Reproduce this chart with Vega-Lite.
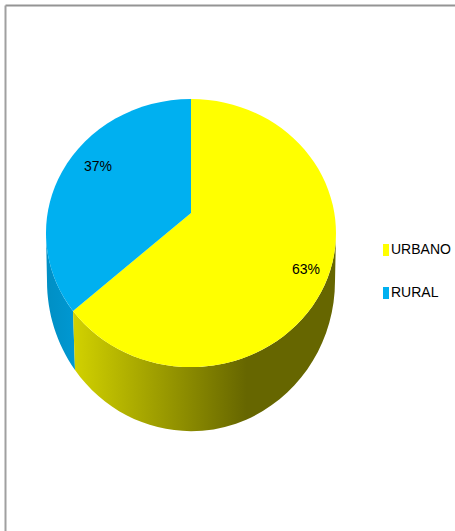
{
  "$schema": "https://vega.github.io/schema/vega-lite/v6.json",
  "width": 451,
  "height": 527,
  "autosize": "none",
  "padding": {"left": 5, "top": 5, "right": 0, "bottom": 0},
  "background": "white",
  "config": {"view": {"stroke": null}},
  "data": {"values": [
    {"segmento": "URBANO", "share": 63, "rotulo": "63%"},
    {"segmento": "RURAL", "share": 37, "rotulo": "37%"}
  ]},
  "layer": [
    {
      "mark": {"type": "point", "opacity": 0},
      "encoding": {
        "x": {"field": "share", "type": "quantitative", "axis": {"orient": "top", "title": null, "labels": false, "ticks": false, "grid": false, "domain": true, "domainColor": "#949494", "domainWidth": 2}},
        "y": {"field": "share", "type": "quantitative", "axis": {"orient": "left", "title": null, "labels": false, "ticks": false, "grid": false, "domain": true, "domainColor": "#a0a0a0", "domainWidth": 2}}
      }
    },
    {
      "transform": [{"filter": "datum.segmento === 'RURAL'"}],
      "mark": {"type": "point", "filled": true, "opacity": 1, "size": 4, "strokeWidth": 0,
        "shape": "M-157.5 42.4 A145 134 0 0 1 -184.5 -35.5 L-183.5 12.5 A144 150 0 0 0 -155.5 101.5 Z",
        "fill": {"gradient": "linear", "x1": 0, "y1": 0, "x2": 1, "y2": 0, "stops": [{"offset": 0, "color": "#008fc4"}, {"offset": 1, "color": "#0098d2"}]}}
    },
    {
      "transform": [{"filter": "datum.segmento === 'URBANO'"}],
      "mark": {"type": "point", "filled": true, "opacity": 1, "size": 4, "strokeWidth": 0,
        "shape": "M105.5 -35.5 A145 134 0 0 1 -157.5 42.4 L-155.5 101.5 A144 150 0 0 0 104.5 12.5 Z",
        "fill": {"gradient": "linear", "x1": 0, "y1": 0, "x2": 1, "y2": 0, "stops": [{"offset": 0, "color": "#d2d200"}, {"offset": 0.66, "color": "#666600"}, {"offset": 1, "color": "#666600"}]}}
    },
    {
      "transform": [{"filter": "datum.segmento === 'URBANO'"}],
      "mark": {"type": "point", "filled": true, "opacity": 1, "size": 4, "strokeWidth": 0,
        "shape": "M-39.5 -55.5 L-39.5 -169.5 A145 134 0 1 1 -157.5 42.4 Z"},
      "encoding": {
        "color": {"field": "segmento", "type": "nominal",
          "scale": {"domain": ["URBANO", "RURAL"], "range": ["#FFFF00", "#00B0F0"]},
          "legend": {"title": null, "orient": "none", "legendX": 374, "legendY": 238, "symbolType": "M-0.5 -1 H0.5 V1 H-0.5 Z", "symbolSize": 144, "symbolStrokeWidth": 0, "symbolOpacity": 1, "labelFont": "Liberation Sans", "labelFontSize": 14, "labelColor": "#000000", "rowPadding": 29, "labelOffset": -2, "padding": 0}}
      }
    },
    {
      "transform": [{"filter": "datum.segmento === 'RURAL'"}],
      "mark": {"type": "point", "filled": true, "opacity": 1, "size": 4, "strokeWidth": 0,
        "shape": "M-39.5 -55.5 L-157.5 42.4 A145 134 0 0 1 -39.5 -169.5 Z"},
      "encoding": {
        "color": {"field": "segmento", "type": "nominal", "legend": null,
          "scale": {"domain": ["URBANO", "RURAL"], "range": ["#FFFF00", "#00B0F0"]}}
      }
    },
    {
      "transform": [{"filter": "datum.segmento === 'URBANO'"}],
      "mark": {"type": "text", "font": "Liberation Sans", "fontSize": 14, "color": "#000000", "align": "center", "baseline": "middle", "dx": 75.5, "dy": 1.5},
      "encoding": {"text": {"field": "rotulo", "type": "nominal"}}
    },
    {
      "transform": [{"filter": "datum.segmento === 'RURAL'"}],
      "mark": {"type": "text", "font": "Liberation Sans", "fontSize": 14, "color": "#000000", "align": "center", "baseline": "middle", "dx": -132.5, "dy": -101.5},
      "encoding": {"text": {"field": "rotulo", "type": "nominal"}}
    }
  ]
}
